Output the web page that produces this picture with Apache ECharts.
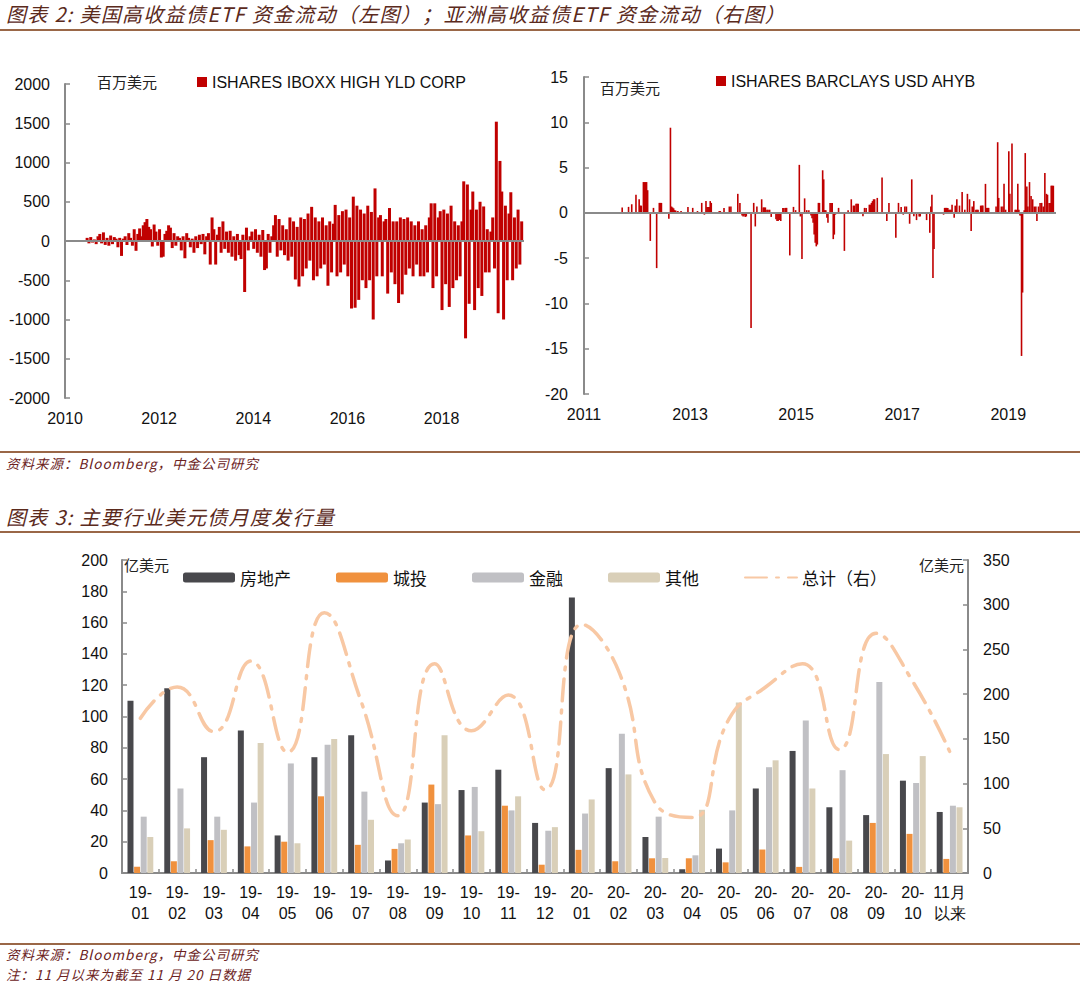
<!DOCTYPE html>
<html><head><meta charset="utf-8">
<script src="https://cdn.jsdelivr.net/npm/echarts@6/dist/echarts.min.js"></script>
<style>
body{margin:0;background:#fff;width:1080px;height:985px;overflow:hidden;position:relative;}
#chart{position:absolute;left:0;top:0;width:1080px;height:985px;}
.t{position:absolute;font-family:"Noto Sans CJK SC",sans-serif;font-style:italic;white-space:nowrap;line-height:1;}
.title{left:6px;font-size:20px;letter-spacing:1.3px;color:#5b2a1c;}
.src{left:6px;font-size:13.5px;letter-spacing:1px;color:#6b2222;}
.rule{position:absolute;left:0;width:1080px;height:2px;background:#9a6747;}
.unit{position:absolute;font-family:"Noto Sans CJK SC",sans-serif;font-size:15px;color:#222;white-space:nowrap;line-height:1;}
</style></head>
<body>
<div id="chart"></div>
<div class="t title" style="top:4px">图表 2: 美国高收益债ETF 资金流动（左图）；亚洲高收益债ETF 资金流动（右图）</div>
<div class="rule" style="top:29px"></div>
<div class="rule" style="top:451px"></div>
<div class="t src" style="top:457px">资料来源：Bloomberg，中金公司研究</div>
<div class="t title" style="top:507px">图表 3: 主要行业美元债月度发行量</div>
<div class="rule" style="top:531px"></div>
<div class="rule" style="top:943px"></div>
<div class="t src" style="top:948px">资料来源：Bloomberg，中金公司研究</div>
<div class="t src" style="top:968px">注：11 月以来为截至 11 月 20 日数据</div>
<div class="unit" style="left:97px;top:74px">百万美元</div>
<div class="unit" style="left:600px;top:80px">百万美元</div>
<div class="unit" style="left:124px;top:557px">亿美元</div>
<div class="unit" style="left:919px;top:557px">亿美元</div>
<script>
// ---- Left: ISHARES IBOXX HIGH YLD CORP, bi-weekly flows (USD mn) from mid-2010 ----
const hygStart = 2010.47;
const hygStep = 1 / 26;
const hyg2010 = [40, -30, 50, -20, 20, -40, 60, 90, -30, 110, -50, 40, -60];
const hyg2011 = [70, -40, 50, 30, -80, 40, -190, 30, 60, -50, 100, 40, -60, 150, -125, 90, 160, 60, 200, 240, 280, 180, 150, -70, 210, 120];
const hyg2012 = [-60, 150, -210, -200, 90, 130, 200, 170, -90, 100, -60, 60, 40, -120, 60, -220, 100, 40, -80, 30, -150, 60, -90, 80, -40, 90];
const hyg2013 = [-170, 60, 100, -300, 300, 150, -300, 80, 180, -150, 250, -100, 120, -150, 130, -200, 60, -250, 90, -180, -230, 80, -650, 170, -120, 60];
const hyg2014 = [120, -100, 150, -150, 80, -200, 140, -370, -350, 90, -150, 60, 200, 330, -200, 280, -120, 200, -180, 150, -250, 300, -200, 250, -490, 180];
const hyg2015 = [-580, 300, -450, 280, -350, 350, -250, 435, -500, 300, -450, 250, -350, 300, -300, 200, -570, 250, -400, 220, 460, -450, 330, -400, 380, -300];
const hyg2016 = [400, -450, 300, -860, 565, -850, 450, -750, 400, -500, 350, -600, 450, -500, 370, -1000, 670, -450, 300, 330, -450, 250, 280, -670, 420, -400];
const hyg2017 = [250, -550, 250, -790, 300, -680, 280, -430, 300, -350, 250, -450, 200, -300, 250, -450, 150, -450, 200, -400, 300, 480, -600, 480, -450, 300];
const hyg2018 = [380, -880, 400, -550, 350, -840, 450, -600, 250, -500, 200, -450, 250, 760, -1240, 720, -800, 400, 630, -880, 400, -600, 500, -700, 440, -400];
const hyg2019 = [150, -400, 120, 300, -350, 1520, -920, 1020, 630, -1000, 450, -500, 350, 620, -500, 300, -350, 400, -300, 250];
const hygFlows = [].concat(hyg2010, hyg2011, hyg2012, hyg2013, hyg2014, hyg2015, hyg2016, hyg2017, hyg2018, hyg2019);

// ---- Right: ISHARES BARCLAYS USD AHYB, weekly flows (USD mn) ----
const ahybDates = [2011.72,2011.84,2011.90,2011.98,2012.04,2012.06,2012.08,2012.12,2012.14,2012.16,2012.18,2012.20,2012.25,2012.31,2012.37,2012.42,2012.44,2012.46,2012.60,2012.63,2012.65,2012.67,2012.69,2012.71,2012.73,2012.77,2012.83,2012.96,2013.05,2013.14,2013.22,2013.27,2013.30,2013.32,2013.34,2013.36,2013.38,2013.40,2013.55,2013.57,2013.64,2013.74,2013.77,2013.90,2013.94,2013.98,2014.00,2014.02,2014.04,2014.06,2014.15,2014.20,2014.23,2014.26,2014.35,2014.38,2014.40,2014.42,2014.45,2014.47,2014.50,2014.53,2014.62,2014.64,2014.66,2014.68,2014.71,2014.75,2014.77,2014.80,2014.82,2014.88,2014.95,2014.99,2015.06,2015.08,2015.11,2015.16,2015.20,2015.24,2015.28,2015.30,2015.32,2015.34,2015.36,2015.38,2015.40,2015.42,2015.44,2015.50,2015.52,2015.54,2015.56,2015.58,2015.60,2015.64,2015.66,2015.68,2015.70,2015.72,2015.74,2015.80,2015.91,2015.98,2016.04,2016.08,2016.10,2016.13,2016.15,2016.17,2016.26,2016.29,2016.32,2016.38,2016.40,2016.42,2016.44,2016.46,2016.48,2016.53,2016.62,2016.71,2016.75,2016.88,2016.93,2016.98,2017.02,2017.05,2017.08,2017.14,2017.18,2017.22,2017.27,2017.32,2017.34,2017.46,2017.52,2017.54,2017.56,2017.58,2017.60,2017.78,2017.80,2017.82,2017.84,2017.86,2017.88,2017.90,2017.92,2017.94,2017.98,2018.00,2018.03,2018.08,2018.13,2018.18,2018.23,2018.27,2018.30,2018.32,2018.35,2018.39,2018.41,2018.43,2018.48,2018.50,2018.52,2018.57,2018.59,2018.61,2018.63,2018.77,2018.80,2018.82,2018.87,2018.90,2018.92,2018.95,2019.01,2019.03,2019.07,2019.13,2019.15,2019.18,2019.20,2019.22,2019.24,2019.25,2019.27,2019.30,2019.32,2019.35,2019.37,2019.40,2019.43,2019.46,2019.49,2019.52,2019.54,2019.57,2019.60,2019.63,2019.66,2019.69,2019.72,2019.74,2019.77,2019.79,2019.81,2019.83,2019.85];
const ahybFlows = [0.6,0.66,0.95,2.0,1.5,0.8,0.8,3.4,3.4,3.4,3.4,2.5,-3.1,0.55,-6.1,1.1,1.1,1.1,-0.66,9.4,0.7,0.6,0.5,0.3,0.25,0.2,0.2,0.66,0.55,0.2,1.1,-0.2,1.3,0.66,0.66,0.66,1.3,1.1,0.2,0.2,0.55,0.7,0.7,2.1,1.1,-0.3,-0.4,-0.3,-0.45,-0.4,-12.7,1.1,-1.5,0.7,1.5,0.6,0.6,0.6,0.35,0.35,0.35,-0.45,-0.7,-0.9,-0.9,-0.8,-0.9,0.55,0.55,0.55,0.55,-4.7,0.66,0.3,5.3,-0.4,-5.1,1.6,0.3,0.3,-0.3,-0.6,-1.1,-2.4,-3.3,-3.7,-3.5,1.1,1.1,4.7,3.7,0.3,0.3,-0.55,-1.1,1.1,1.1,1.1,-2.9,-2.4,-0.2,0.55,-4.2,0.3,1.5,0.8,0.8,1.0,1.0,1.0,-0.37,0.55,0.55,0.9,0.9,1.1,1.3,1.5,1.5,1.65,3.9,-0.9,1.1,-2.75,1.1,0.66,-0.2,0.7,0.7,-1.2,3.7,-0.37,-0.8,-0.4,-0.4,-0.8,-2.2,0.7,2.0,-7.2,-4.0,-0.2,0.55,0.55,0.55,0.55,0.35,0.35,0.35,0.9,-0.55,0.8,1.5,0.8,2.3,0.35,2.1,1.5,-2.0,0.7,1.3,0.35,0.35,0.35,0.8,0.8,0.8,3.2,0.55,0.55,0.55,0.7,7.8,1.65,0.7,0.7,3.2,0.35,6.8,2.1,7.65,0.35,0.35,3.2,0.35,-0.3,-0.3,-15.8,-8.8,0.3,6.6,2.9,0.7,3.4,1.85,1.5,0.7,0.7,-0.9,0.7,1.1,1.1,0.7,4.4,2.1,2.0,1.1,1.1,3.0,3.0,3.0];

// ---- Bottom: monthly USD bond issuance by sector (100mn USD) ----
const months = ['19-\n01','19-\n02','19-\n03','19-\n04','19-\n05','19-\n06','19-\n07','19-\n08','19-\n09','19-\n10','19-\n11','19-\n12','20-\n01','20-\n02','20-\n03','20-\n04','20-\n05','20-\n06','20-\n07','20-\n08','20-\n09','20-\n10','11月\n以来'];
const realEstate = [110, 118, 74, 91, 24, 74, 88, 8, 45, 53, 66, 32, 176, 67, 23, 2.4, 15.6, 54, 78, 42, 37, 59, 39];
const chengtou   = [4, 7.5, 21, 17, 20, 49, 18, 15.4, 56.5, 24, 43, 5.3, 14.8, 7.5, 9.4, 9.4, 6.8, 15, 3.9, 9.4, 32, 25, 9];
const finance    = [36, 54, 36, 45, 70, 82, 52, 19, 44, 55, 40, 27, 38, 89, 36, 11.3, 40, 67.6, 97.5, 65.7, 122, 57.5, 43];
const others     = [23, 28.5, 27.6, 83, 19, 85.6, 34, 21.4, 88, 26.7, 49, 29.3, 47, 63, 9.6, 40.4, 109, 72, 54, 20.7, 76, 74.7, 42];
const totalRight = [173, 208, 158, 237, 135, 291, 192, 64, 234, 159, 199, 93, 278, 226, 78, 62, 172, 208, 234, 138, 268, 214, 136];
</script>
<script>
const hygData = hygFlows.map((v, i) => [hygStart + i * hygStep, v]);
const ahybData = ahybDates.map((d, i) => [d, ahybFlows[i]]);

const AX = '#8a8a8a';
const FONT = '"Liberation Sans", Arial, sans-serif';
const CJK = '"Noto Sans CJK SC", sans-serif';
const lbl = {fontSize: 16, color: '#111', fontFamily: FONT};
const plain = v => String(Math.round(v));

function yearAxis(grid, min, max) {
  return {gridIndex: grid, type: 'value', min: min, max: max, interval: 2,
    axisLine: {show: false, onZero: false}, axisTick: {show: false}, splitLine: {show: false},
    axisLabel: Object.assign({margin: 12, showMaxLabel: false, formatter: plain}, lbl)};
}
function valAxis(grid, min, max, interval, pos, margin) {
  return {gridIndex: grid, type: 'value', min: min, max: max, interval: interval, position: pos,
    axisLine: {show: true, lineStyle: {color: AX, width: 2}},
    axisTick: {show: true, inside: true, length: 5, lineStyle: {color: AX, width: 1.5}},
    splitLine: {show: false},
    axisLabel: Object.assign({margin: margin, formatter: plain}, lbl)};
}
const zeroLine = {silent: true, symbol: 'none', label: {show: false},
  lineStyle: {color: AX, width: 2, type: 'solid'}, data: [{yAxis: 0}]};

const chart = echarts.init(document.getElementById('chart'), null, {renderer: 'svg'});
chart.setOption({
  animation: false,
  backgroundColor: 'transparent',
  grid: [
    {left: 65, top: 84, width: 459, height: 314},
    {left: 584, top: 77, width: 472, height: 317},
    {left: 122, top: 560, width: 846, height: 313}
  ],
  legend: [
    {data: ['ISHARES IBOXX HIGH YLD CORP'], left: 197, top: 74, padding: 0, itemWidth: 10, itemHeight: 10, icon: 'rect',
      textStyle: {fontSize: 16, color: '#111', fontFamily: FONT}},
    {data: ['ISHARES BARCLAYS USD AHYB'], left: 716, top: 73, padding: 0, itemWidth: 10, itemHeight: 10, icon: 'rect',
      textStyle: {fontSize: 16, color: '#111', fontFamily: FONT}},
    {data: ['房地产', '城投', '金融', '其他', {name: '总计（右）', itemStyle: {opacity: 0}}],
      left: 183, top: 569, padding: 0, itemWidth: 52, itemHeight: 10, itemGap: 45,
      textStyle: {fontSize: 17, color: '#111', fontFamily: CJK}}
  ],
  xAxis: [
    yearAxis(0, 2010, 2019.75),
    yearAxis(1, 2011, 2019.9),
    {gridIndex: 2, type: 'category', data: months,
      axisLine: {show: true, lineStyle: {color: AX, width: 2}},
      axisTick: {show: true, inside: true, length: 4, interval: 0, lineStyle: {color: AX, width: 1.5}},
      axisLabel: Object.assign({interval: 0, margin: 9, lineHeight: 21}, lbl)}
  ],
  yAxis: [
    valAxis(0, -2000, 2000, 500, 'left', 15),
    valAxis(1, -20, 15, 5, 'left', 16),
    valAxis(2, 0, 200, 20, 'left', 14),
    valAxis(2, 0, 350, 50, 'right', 15)
  ],
  series: [
    {name: 'ISHARES IBOXX HIGH YLD CORP', type: 'bar', xAxisIndex: 0, yAxisIndex: 0, data: hygData,
      barWidth: 3, itemStyle: {color: '#c00000'}, markLine: zeroLine},
    {name: 'ISHARES BARCLAYS USD AHYB', type: 'bar', xAxisIndex: 1, yAxisIndex: 1, data: ahybData,
      barWidth: 1.6, itemStyle: {color: '#c00000'}, markLine: zeroLine},
    {name: '房地产', type: 'bar', xAxisIndex: 2, yAxisIndex: 2, data: realEstate, barWidth: 6, barGap: '10%', itemStyle: {color: '#48484c'}},
    {name: '城投', type: 'bar', xAxisIndex: 2, yAxisIndex: 2, data: chengtou, barWidth: 6, barGap: '10%', itemStyle: {color: '#f0913e'}},
    {name: '金融', type: 'bar', xAxisIndex: 2, yAxisIndex: 2, data: finance, barWidth: 6, barGap: '10%', itemStyle: {color: '#c0c0c4'}},
    {name: '其他', type: 'bar', xAxisIndex: 2, yAxisIndex: 2, data: others, barWidth: 6, barGap: '10%', itemStyle: {color: '#d9cfb8'}},
    {name: '总计（右）', type: 'line', xAxisIndex: 2, yAxisIndex: 3, data: totalRight, smooth: 0.5, symbol: 'none',
      itemStyle: {color: '#f8c8a4'},
      lineStyle: {color: '#f8c8a4', width: 3.5, type: [22, 9, 3, 9], cap: 'round'}}
  ]
});
</script>
</body></html>
